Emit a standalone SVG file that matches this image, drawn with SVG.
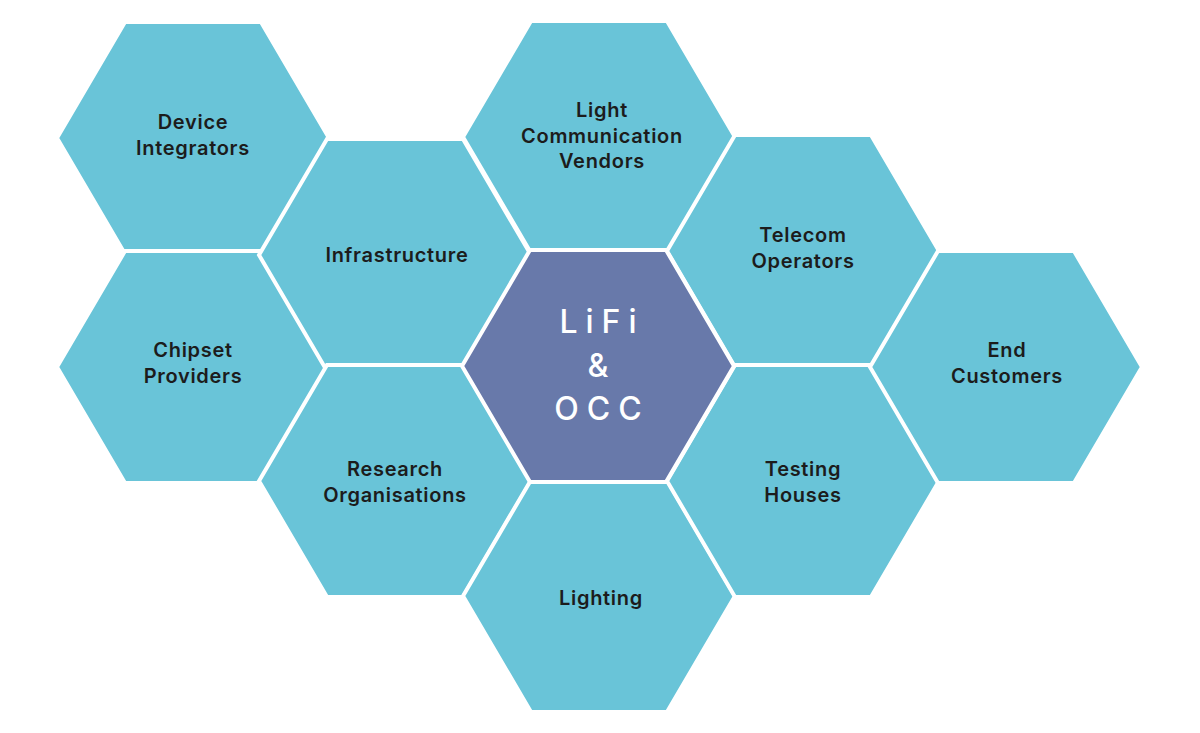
<svg xmlns="http://www.w3.org/2000/svg" width="1200" height="733" viewBox="0 0 1200 733">
<style>
.hex{fill:#69c4d8;stroke:#ffffff;stroke-width:4;stroke-linejoin:miter}
.core{fill:#6879aa;stroke:#ffffff;stroke-width:4}
.lbl{font-family:Inter,Lato,"Liberation Sans",sans-serif;font-weight:600;font-size:20px;fill:#1c1c1c;text-anchor:middle;letter-spacing:0.7px}
.ctr{font-family:Inter,Lato,"Liberation Sans",sans-serif;font-weight:500;font-size:32px;fill:#ffffff;text-anchor:middle;letter-spacing:8px}
</style>
<defs>
<polygon id="hx" points="-136,0 -68,-116 68,-116 136,0 68,116 -68,116"/>
</defs>
<rect width="1200" height="733" fill="#ffffff"/>
<g id="connectors"></g>
<g id="device-integrators">
<use href="#hx" class="hex" x="193" y="138"/>
<text class="lbl" x="193" y="129">Device</text>
<text class="lbl" x="193" y="155">Integrators</text>
</g>
<g id="chipset-providers">
<use href="#hx" class="hex" x="193" y="367"/>
<text class="lbl" x="193" y="357">Chipset</text>
<text class="lbl" x="193" y="383">Providers</text>
</g>
<g id="infrastructure">
<use href="#hx" class="hex" x="395" y="255"/>
<text class="lbl" x="397" y="262">Infrastructure</text>
</g>
<g id="research-organisations">
<use href="#hx" class="hex" x="395" y="481"/>
<text class="lbl" x="395" y="476">Research</text>
<text class="lbl" x="395" y="502">Organisations</text>
</g>
<g id="light-communication-vendors">
<use href="#hx" class="hex" x="599" y="137"/>
<text class="lbl" x="602" y="117">Light</text>
<text class="lbl" x="602" y="143">Communication</text>
<text class="lbl" x="602" y="168">Vendors</text>
</g>
<g id="lighting">
<use href="#hx" class="hex" x="599" y="596"/>
<text class="lbl" x="601" y="605">Lighting</text>
</g>
<g id="telecom-operators">
<use href="#hx" class="hex" x="803" y="251"/>
<text class="lbl" x="803" y="242">Telecom</text>
<text class="lbl" x="803" y="268">Operators</text>
</g>
<g id="testing-houses">
<use href="#hx" class="hex" x="803" y="481"/>
<text class="lbl" x="803" y="476">Testing</text>
<text class="lbl" x="803" y="502">Houses</text>
</g>
<g id="end-customers">
<use href="#hx" class="hex" x="1006" y="367"/>
<text class="lbl" x="1007" y="357">End</text>
<text class="lbl" x="1007" y="383">Customers</text>
</g>
<g id="lifi-occ">
<use href="#hx" class="core" x="598" y="366"/>
<text class="ctr" x="602" y="333">LiFi</text>
<text class="ctr" x="602" y="377">&amp;</text>
<text class="ctr" x="602" y="420">OCC</text>
</g>
</svg>
